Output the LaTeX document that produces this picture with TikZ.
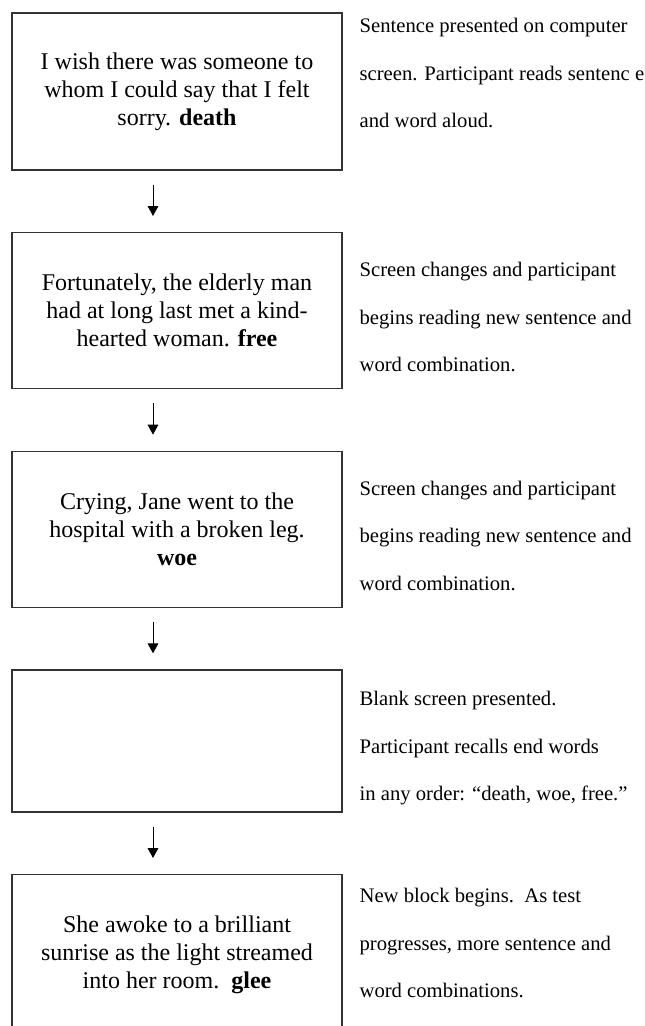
\documentclass[tikz,border=0pt]{standalone}
\usepackage{fontspec}
\setmainfont{Liberation Serif}
\usetikzlibrary{arrows.meta, positioning}

\begin{document}
\begin{tikzpicture}[
    x=0.75pt, y=-0.75pt,
    node distance=46pt,
    screenbox/.style={
        rectangle,
        draw=black!80,
        line width=1pt,
        minimum width=247.5pt,
        minimum height=117pt,
        align=center,
        inner sep=0pt,
        font=\fontsize{18}{21}\selectfont,
    },
    notes/.style={
        anchor=north west,
        align=left,
        inner sep=0pt,
        font=\fontsize{15.5}{35.6}\selectfont,
    },
    flow/.style={
        line width=0.75pt,
        -{Triangle[length=7.5pt, width=8pt]},
    }
]
    \useasboundingbox (0,0) rectangle (645,1026);
    \clip (0,0) rectangle (645,1026);

    % Screens
    \node[screenbox, minimum height=117.75pt] (screen1) at (177,91.5)
        {I wish there was someone to\\whom I could say that I felt\\sorry. \textbf{death}};
    \node[screenbox, below=of screen1] (screen2)
        {Fortunately, the elderly man\\had at long last met a kind-\\hearted woman. \textbf{free}};
    \node[screenbox, below=of screen2] (screen3)
        {Crying, Jane went to the\\hospital with a broken leg.\\\textbf{woe}};
    \node[screenbox, below=of screen3, minimum height=106.5pt] (screen4) {};
    \node[screenbox, below=of screen4, minimum height=120pt] (screen5)
        {She awoke to a brilliant\\sunrise as the light streamed\\into her room.\ \ \textbf{glee}};

    % Arrows
    \draw[flow] ([xshift=-18pt, yshift=-10.5pt]screen1.south) -- ([xshift=-18pt, yshift=12pt]screen2.north);
    \draw[flow] ([xshift=-18pt, yshift=-10.5pt]screen2.south) -- ([xshift=-18pt, yshift=12pt]screen3.north);
    \draw[flow] ([xshift=-18pt, yshift=-10.5pt]screen3.south) -- ([xshift=-18pt, yshift=12pt]screen4.north);
    \draw[flow] ([xshift=-18pt, yshift=-10.5pt]screen4.south) -- ([xshift=-18pt, yshift=12pt]screen5.north);

    % Descriptions
    \node[notes] (note1) at ([xshift=12.5pt, yshift=-4.5pt]screen1.north east)
        {Sentence presented on computer\\screen. Participant reads sentenc e\\and word aloud.};
    \node[notes] (note2) at ([xshift=12.5pt, yshift=-22.5pt]screen2.north east)
        {Screen changes and participant\\begins reading new sentence and\\word combination.};
    \node[notes] (note3) at ([xshift=12.5pt, yshift=-22.5pt]screen3.north east)
        {Screen changes and participant\\begins reading new sentence and\\word combination.};
    \node[notes] (note4) at ([xshift=12.5pt, yshift=-16.5pt]screen4.north east)
        {Blank screen presented.\\Participant recalls end words\\in any order: ``death, woe, free.''};
    \node[notes] (note5) at ([xshift=12.5pt, yshift=-10.5pt]screen5.north east)
        {New block begins.\ \ As test\\progresses, more sentence and\\word combinations.};
\end{tikzpicture}
\end{document}
